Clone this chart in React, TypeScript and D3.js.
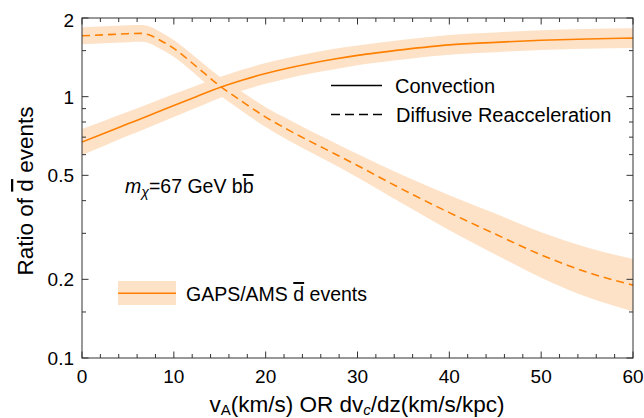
import React from "react";
import * as d3 from "d3";

const W = 644;
const H = 418;

// Convection (solid)
const convX = [0, 2.5, 5, 7.5, 10, 12.5, 15, 17.5, 20, 22.5, 25, 27.5, 30, 35, 40, 45, 50, 55, 60];
const convV = [0.67, 0.726, 0.787, 0.853, 0.925, 1.002, 1.084, 1.159, 1.227, 1.288, 1.343, 1.393, 1.439, 1.514, 1.578, 1.614, 1.644, 1.663, 1.675];
const convHi = [0.752, 0.811, 0.875, 0.946, 1.024, 1.104, 1.188, 1.27, 1.345, 1.409, 1.469, 1.524, 1.57, 1.652, 1.722, 1.761, 1.794, 1.814, 1.827];
const convLo = [0.597, 0.65, 0.708, 0.769, 0.836, 0.909, 0.989, 1.057, 1.12, 1.177, 1.228, 1.273, 1.319, 1.388, 1.446, 1.479, 1.507, 1.524, 1.535];

// Diffusive reacceleration (dashed)
const drX = [0, 2.5, 5, 6.5, 7.5, 8.5, 10, 12.5, 15, 17.5, 20, 22.5, 25, 27.5, 30, 35, 40, 45, 50, 55, 60];
const drV = [1.71, 1.725, 1.742, 1.746, 1.715, 1.645, 1.53, 1.3, 1.1, 0.955, 0.835, 0.745, 0.67, 0.605, 0.545, 0.44, 0.36, 0.298, 0.248, 0.213, 0.19];
const drHi = [1.842, 1.858, 1.876, 1.88, 1.847, 1.772, 1.647, 1.403, 1.192, 1.04, 0.911, 0.817, 0.736, 0.667, 0.604, 0.499, 0.42, 0.357, 0.303, 0.265, 0.239];
const drLo = [1.588, 1.602, 1.617, 1.621, 1.592, 1.527, 1.421, 1.205, 1.015, 0.877, 0.765, 0.68, 0.61, 0.549, 0.491, 0.388, 0.308, 0.249, 0.203, 0.171, 0.151];

const xMajor = [0, 10, 20, 30, 40, 50, 60];
const xMinor = [2, 4, 6, 8, 12, 14, 16, 18, 22, 24, 26, 28, 32, 34, 36, 38, 42, 44, 46, 48, 52, 54, 56, 58];
const yMajor = [0.1, 0.2, 0.5, 1, 2];
const yMajorLabels = ["0.1", "0.2", "0.5", "1", "2"];
const yMinor = [0.15, 0.3, 0.4, 0.6, 0.7, 0.8, 0.9, 1.5];

const ORANGE = "#ff8000";
const BAND = "#fde2c8";
const AXIS = "#333";
const FONT = "'Liberation Sans', Arial, sans-serif";

export default function App() {
  const x = d3.scaleLinear().domain([0, 60]).range([82, 633]);
  const y = d3.scaleLog().domain([0.1, 2]).range([358, 18]);
  const [x0, x1] = x.range();
  const [yb, yt] = y.range();

  const mkLine = (xs: number[], vs: number[]) =>
    d3
      .line<number>()
      .x((_, i) => x(xs[i]))
      .y((v) => y(v))
      .curve(d3.curveMonotoneX)(vs) || "";
  const mkArea = (xs: number[], lo: number[], hi: number[]) =>
    d3
      .area<number>()
      .x((_, i) => x(xs[i]))
      .y0((_, i) => y(lo[i]))
      .y1((_, i) => y(hi[i]))
      .curve(d3.curveMonotoneX)(xs) || "";

  const majLen = 6.5;
  const minLen = 4;

  return (
    <svg width={W} height={H} style={{ position: "absolute", left: 0, top: 0 }} fontFamily={FONT}>
      <defs>
        <clipPath id="plot">
          <rect x={x0} y={yt} width={x1 - x0} height={yb - yt} />
        </clipPath>
      </defs>
      <g clipPath="url(#plot)">
        <path d={mkArea(convX, convLo, convHi)} fill={BAND} />
        <path d={mkArea(drX, drLo, drHi)} fill={BAND} />
        <path d={mkLine(convX, convV)} fill="none" stroke={ORANGE} strokeWidth={1.6} />
        <path d={mkLine(drX, drV)} fill="none" stroke={ORANGE} strokeWidth={1.6} strokeDasharray="8,5" />
      </g>
      {/* frame */}
      <rect x={x0} y={yt} width={x1 - x0} height={yb - yt} fill="none" stroke={AXIS} strokeWidth={1} />
      {/* x ticks */}
      {xMajor.map((t) => (
        <g key={"xM" + t}>
          <line x1={x(t)} x2={x(t)} y1={yb} y2={yb - majLen} stroke={AXIS} />
          <line x1={x(t)} x2={x(t)} y1={yt} y2={yt + majLen} stroke={AXIS} />
          <text x={x(t)} y={383} fontSize={19} textAnchor="middle" fill="#000">
            {t}
          </text>
        </g>
      ))}
      {xMinor.map((t) => (
        <g key={"xm" + t}>
          <line x1={x(t)} x2={x(t)} y1={yb} y2={yb - minLen} stroke={AXIS} />
          <line x1={x(t)} x2={x(t)} y1={yt} y2={yt + minLen} stroke={AXIS} />
        </g>
      ))}
      {/* y ticks */}
      {yMajor.map((t, i) => (
        <g key={"yM" + t}>
          <line x1={x0} x2={x0 + majLen} y1={y(t)} y2={y(t)} stroke={AXIS} />
          <line x1={x1} x2={x1 - majLen} y1={y(t)} y2={y(t)} stroke={AXIS} />
          <text x={74} y={y(t) + (t === 2 ? 8.5 : 7)} fontSize={19} textAnchor="end" fill="#000">
            {yMajorLabels[i]}
          </text>
        </g>
      ))}
      {yMinor.map((t) => (
        <g key={"ym" + t}>
          <line x1={x0} x2={x0 + minLen} y1={y(t)} y2={y(t)} stroke={AXIS} />
          <line x1={x1} x2={x1 - minLen} y1={y(t)} y2={y(t)} stroke={AXIS} />
        </g>
      ))}
      {/* axis titles */}
      <text x={357} y={411.5} fontSize={22.5} textAnchor="middle" fill="#000">
        v<tspan fontSize={15} dy={3.5}>A</tspan>
        <tspan dy={-3.5}>(km/s) OR dv</tspan>
        <tspan fontSize={15} dy={3.5} fontStyle="italic">c</tspan>
        <tspan dy={-3.5}>/dz(km/s/kpc)</tspan>
      </text>
      <text transform="translate(33,191) rotate(-90)" fontSize={22.5} textAnchor="middle" fill="#000">
        Ratio of <tspan style={{ textDecoration: "overline" }}>d</tspan> events
      </text>
      {/* legend top right */}
      <line x1={331} x2={382} y1={85.5} y2={85.5} stroke="#000" strokeWidth={1.5} />
      <text x={395} y={93} fontSize={20} fill="#000">Convection</text>
      <line x1={331} x2={382} y1={114.5} y2={114.5} stroke="#000" strokeWidth={1.5} strokeDasharray="9,5" />
      <text x={396} y={122} fontSize={20} fill="#000">Diffusive Reacceleration</text>
      {/* annotation */}
      <text x={125} y={193} fontSize={19.5} fill="#000">
        <tspan fontStyle="italic">m</tspan>
        <tspan fontStyle="italic" fontSize={14} dy={4}>χ</tspan>
        <tspan dy={-4}>=67 GeV b</tspan>
        <tspan style={{ textDecoration: "overline" }}>b</tspan>
      </text>
      {/* legend bottom */}
      <rect x={118} y={281} width={58} height={24} fill={BAND} />
      <line x1={118} x2={176} y1={293.3} y2={293.3} stroke={ORANGE} strokeWidth={1.6} />
      <text x={186} y={301} fontSize={19.5} fill="#000">
        GAPS/AMS <tspan style={{ textDecoration: "overline" }}>d</tspan> events
      </text>
    </svg>
  );
}
